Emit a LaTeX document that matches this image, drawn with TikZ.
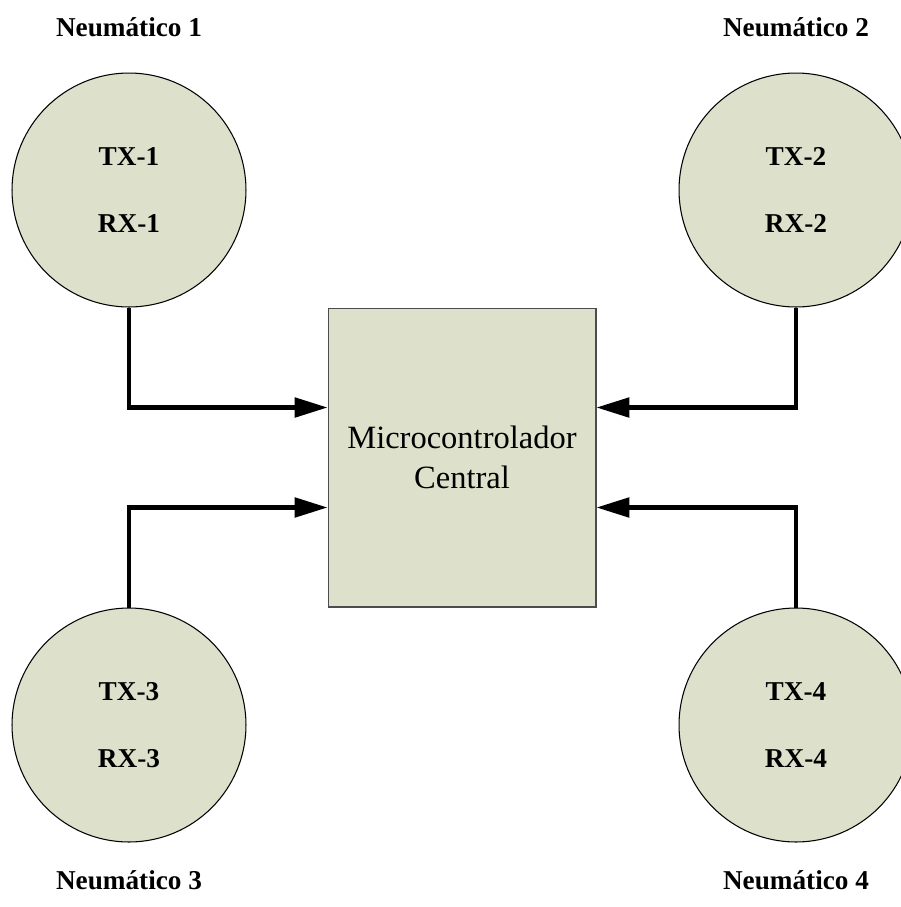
\documentclass[tikz,border=0pt]{standalone}
\usepackage{fontspec}
\setmainfont{Liberation Serif}
\usetikzlibrary{arrows.meta}
\definecolor{tyrefill}{HTML}{DDE0CB}
\tikzset{
  tyre/.style={circle, draw=black, line width=.6pt, fill=tyrefill,
    minimum size=4.68cm, inner sep=0pt, align=center,
    font=\fontsize{15.5}{18}\selectfont\bfseries},
  tyrelabel/.style={font=\fontsize{15.5}{18}\selectfont\bfseries},
  mcubox/.style={rectangle, draw=black!70, line width=.6pt, fill=tyrefill,
    minimum width=5.36cm, minimum height=5.98cm, align=center,
    font=\fontsize{18.5}{23}\selectfont},
  link/.style={line width=2.3pt, -{Triangle[length=6.6mm,width=3.9mm]}}
}
\begin{document}
\begin{tikzpicture}[x=.02cm,y=-.02cm]
\useasboundingbox (0,0) rectangle (901,907);
% wheels and their titles
\foreach \i/\x/\y/\ly in {1/129/190/27, 2/796/190/27, 3/129/725/880, 4/796/725/880}
{
  \node [tyre] (n\i) at (\x,\y) {TX-\i\\[20pt]RX-\i};
  \node [tyrelabel] (lab\i) at (\x,\ly) {Neumático \i};
}
% central unit
\node [mcubox] (mcu) at (462,457.5) {Microcontrolador\\Central};
% links
\draw [link] (n1.south) |- ([yshift=1cm]mcu.west);
\draw [link] (n2.south) |- ([yshift=1cm]mcu.east);
\draw [link] (n3.north) |- ([yshift=-1cm]mcu.west);
\draw [link] (n4.north) |- ([yshift=-1cm]mcu.east);
\end{tikzpicture}
\end{document}
